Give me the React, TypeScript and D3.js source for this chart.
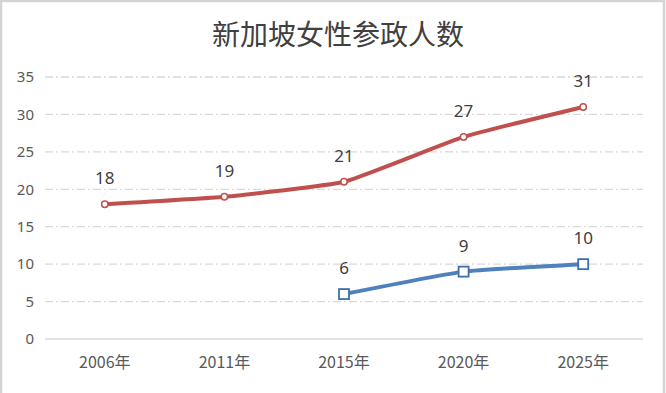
import React, { useEffect, useRef } from 'react';
import * as d3 from 'd3';

const years = ['2006年', '2011年', '2015年', '2020年', '2025年'];
const seriesA: (number | null)[] = [18, 19, 21, 27, 31];
const seriesB: (number | null)[] = [null, null, 6, 9, 10];
const yTicks = [0, 5, 10, 15, 20, 25, 30, 35];

const W = 666;
const H = 393;

const App: React.FC = () => {
  const svgRef = useRef<SVGSVGElement>(null);

  useEffect(() => {
    const svg = d3.select(svgRef.current);
    svg.selectAll('*').remove();

    const margin = { left: 45, right: 23, top: 77, bottom: 54 };
    const x = d3.scalePoint<string>()
      .domain(years)
      .range([margin.left, W - margin.right])
      .padding(0.5);
    const y = d3.scaleLinear()
      .domain([0, 35])
      .range([H - margin.bottom, margin.top]);

    // background + frame
    svg.append('rect').attr('width', W).attr('height', H).attr('fill', '#fff');
    svg.append('path')
      .attr('d', `M1,${H} V1 H${W - 2} V${H}`)
      .attr('fill', 'none')
      .attr('stroke', '#d4d4d4')
      .attr('stroke-width', 2.5);

    // title
    svg.append('text')
      .attr('x', 338)
      .attr('y', 45)
      .attr('text-anchor', 'middle')
      .attr('fill', '#404040')
      .style('font-family', '"Noto Sans CJK SC", sans-serif')
      .style('font-size', '28px')
      .text('新加坡女性参政人数');

    // gridlines
    svg.append('g')
      .selectAll('line')
      .data(yTicks.filter(t => t > 0))
      .join('line')
        .attr('x1', margin.left)
        .attr('x2', W - margin.right)
        .attr('y1', d => y(d))
        .attr('y2', d => y(d))
        .attr('stroke', '#d9d9d9')
        .attr('stroke-width', 1.3)
        .attr('stroke-dasharray', '8,3,2,3');

    // x axis line
    svg.append('line')
      .attr('x1', margin.left)
      .attr('x2', W - margin.right)
      .attr('y1', y(0))
      .attr('y2', y(0))
      .attr('stroke', '#d9d9d9')
      .attr('stroke-width', 1.3);

    // y labels
    svg.append('g')
      .selectAll('text')
      .data(yTicks)
      .join('text')
        .attr('x', 34)
        .attr('y', d => y(d))
        .attr('dy', '0.35em')
        .attr('text-anchor', 'end')
        .attr('fill', '#595959')
        .style('font-family', '"Noto Sans", sans-serif')
        .style('font-size', '15px')
        .text(d => d);

    // x labels
    svg.append('g')
      .selectAll('text')
      .data(years)
      .join('text')
        .attr('x', d => x(d)!)
        .attr('y', 362)
        .attr('dy', '0.35em')
        .attr('text-anchor', 'middle')
        .attr('fill', '#595959')
        .style('font-family', '"Noto Sans CJK SC", sans-serif')
        .style('font-size', '16px')
        .text(d => d);

    type Pt = { year: string; v: number };
    const toPts = (vals: (number | null)[]): Pt[] =>
      years.map((yr, i) => ({ year: yr, v: vals[i] as number })).filter((_, i) => vals[i] != null);

    const line = d3.line<Pt>()
      .x(d => x(d.year)!)
      .y(d => y(d.v))
      .curve(d3.curveCardinal.tension(0.6));

    const ptsA = toPts(seriesA);
    const ptsB = toPts(seriesB);

    // red series
    svg.append('path')
      .datum(ptsA)
      .attr('d', line)
      .attr('fill', 'none')
      .attr('stroke', '#C0504D')
      .attr('stroke-width', 4)
      .attr('stroke-linejoin', 'round');
    svg.append('g')
      .selectAll('circle')
      .data(ptsA)
      .join('circle')
        .attr('cx', d => x(d.year)!)
        .attr('cy', d => y(d.v))
        .attr('r', 3.2)
        .attr('fill', '#fff')
        .attr('stroke', '#C0504D')
        .attr('stroke-width', 1.5);

    // blue series
    svg.append('path')
      .datum(ptsB)
      .attr('d', line)
      .attr('fill', 'none')
      .attr('stroke', '#4F81BD')
      .attr('stroke-width', 4)
      .attr('stroke-linejoin', 'round');
    svg.append('g')
      .selectAll('rect')
      .data(ptsB)
      .join('rect')
        .attr('x', d => x(d.year)! - 5)
        .attr('y', d => y(d.v) - 5)
        .attr('width', 10)
        .attr('height', 10)
        .attr('fill', '#fff')
        .attr('stroke', '#3F6FA8')
        .attr('stroke-width', 1.8);

    // data labels
    svg.append('g')
      .selectAll('text')
      .data([...ptsA, ...ptsB])
      .join('text')
        .attr('x', d => x(d.year)!)
        .attr('y', d => y(d.v) - 26)
        .attr('dy', '0.35em')
        .attr('text-anchor', 'middle')
        .attr('fill', '#404040')
        .style('font-family', '"Noto Sans", sans-serif')
        .style('font-size', '17px')
        .text(d => d.v);
  }, []);

  return (
    <svg
      ref={svgRef}
      width={W}
      height={H}
      viewBox={`0 0 ${W} ${H}`}
      style={{ position: 'absolute', left: 0, top: 0, display: 'block' }}
    />
  );
};

export default App;
